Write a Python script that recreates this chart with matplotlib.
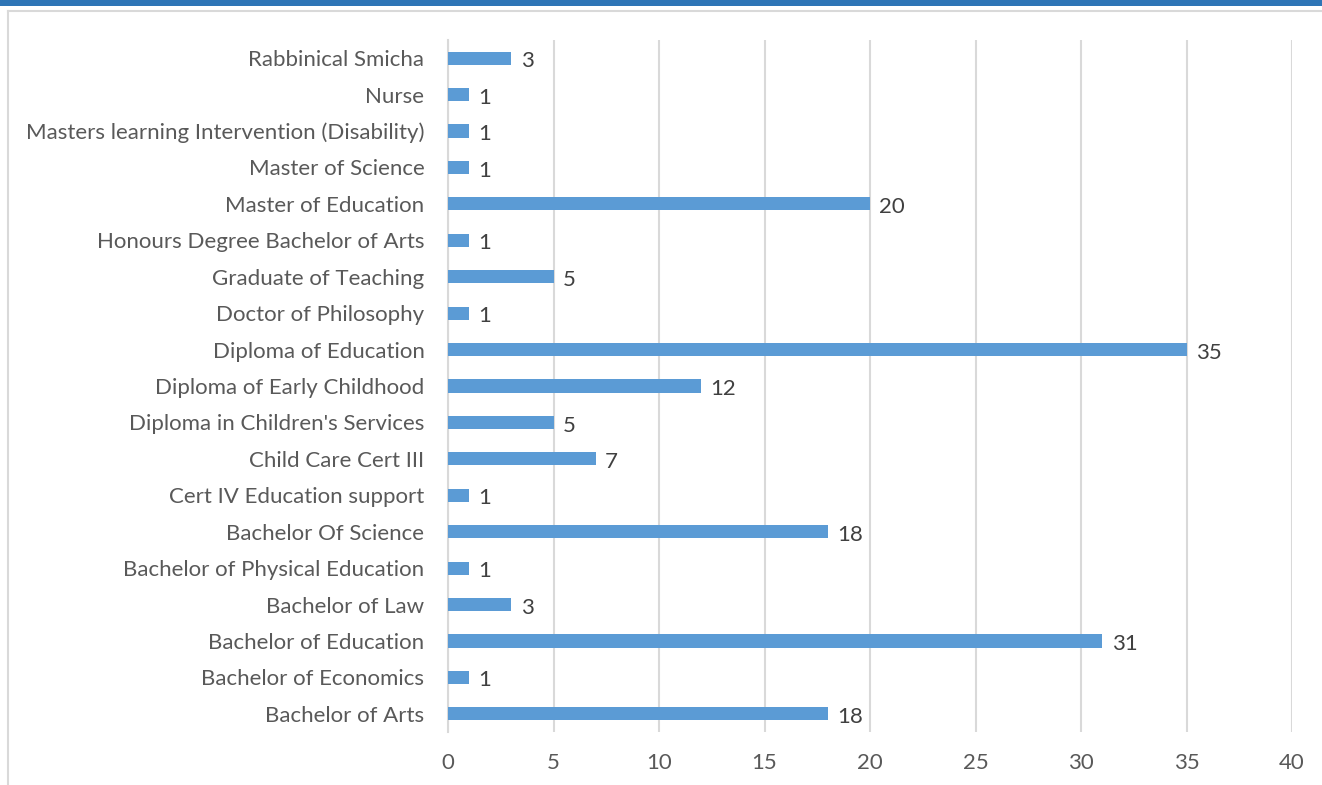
import matplotlib.pyplot as plt
from matplotlib.patches import Rectangle
from matplotlib.lines import Line2D

plt.rcParams["font.family"] = ["Lato", "DejaVu Sans"]

qualifications = [
    "Bachelor of Arts",
    "Bachelor of Economics",
    "Bachelor of Education",
    "Bachelor of Law",
    "Bachelor of Physical Education",
    "Bachelor Of Science",
    "Cert IV Education support",
    "Child Care Cert III",
    "Diploma in Children's Services",
    "Diploma of Early Childhood",
    "Diploma of Education",
    "Doctor of Philosophy",
    "Graduate of Teaching",
    "Honours Degree Bachelor of Arts",
    "Master of Education",
    "Master of Science",
    "Masters learning Intervention (Disability)",
    "Nurse",
    "Rabbinical Smicha",
]
counts = [18, 1, 31, 3, 1, 18, 1, 7, 5, 12, 35, 1, 5, 1, 20, 1, 1, 1, 3]
x_ticks = [0, 5, 10, 15, 20, 25, 30, 35, 40]

text_color = "#595959"
label_color = "#404040"
bar_color = "#5B9BD5"
grid_color = "#D9D9D9"
fs = 16

fig = plt.figure(figsize=(13.22, 7.85), dpi=100)

# header band and chart frame
fig.add_artist(Rectangle((0, 1 - 6 / 785), 1, 6 / 785, transform=fig.transFigure,
                         facecolor="#2E75B6", edgecolor="none"))
fig.add_artist(Line2D([8 / 1322, 1], [1 - 11 / 785, 1 - 11 / 785], transform=fig.transFigure,
                      color=grid_color, lw=1.5))
fig.add_artist(Line2D([8 / 1322, 8 / 1322], [0, 1 - 11 / 785], transform=fig.transFigure,
                      color=grid_color, lw=1.5))

ax = fig.add_axes([448 / 1322, 1 - 732 / 785, (1292 - 448) / 1322, (732 - 40) / 785])
y = range(len(qualifications))
ax.barh(y, counts, height=0.36, color=bar_color, zorder=3)

for yi, v in zip(y, counts):
    ax.text(v + 0.45, yi - 0.03, str(v), va="center_baseline", ha="left",
            fontsize=fs, color=label_color)

ax.set_xlim(0, 40)
ax.set_ylim(-0.5, len(qualifications) - 0.5)
ax.set_xticks(x_ticks)
ax.set_yticks(list(y))
ax.set_yticklabels(qualifications)
ax.tick_params(axis="both", length=0, labelsize=fs, labelcolor=text_color)
ax.tick_params(axis="y", pad=17)
ax.tick_params(axis="x", pad=15)
ax.grid(axis="x", color=grid_color, lw=1.5, zorder=0)
for side in ["top", "right", "bottom"]:
    ax.spines[side].set_visible(False)
ax.spines["left"].set_color(grid_color)
ax.spines["left"].set_linewidth(1.5)

fig.savefig("out.png", dpi=100)
